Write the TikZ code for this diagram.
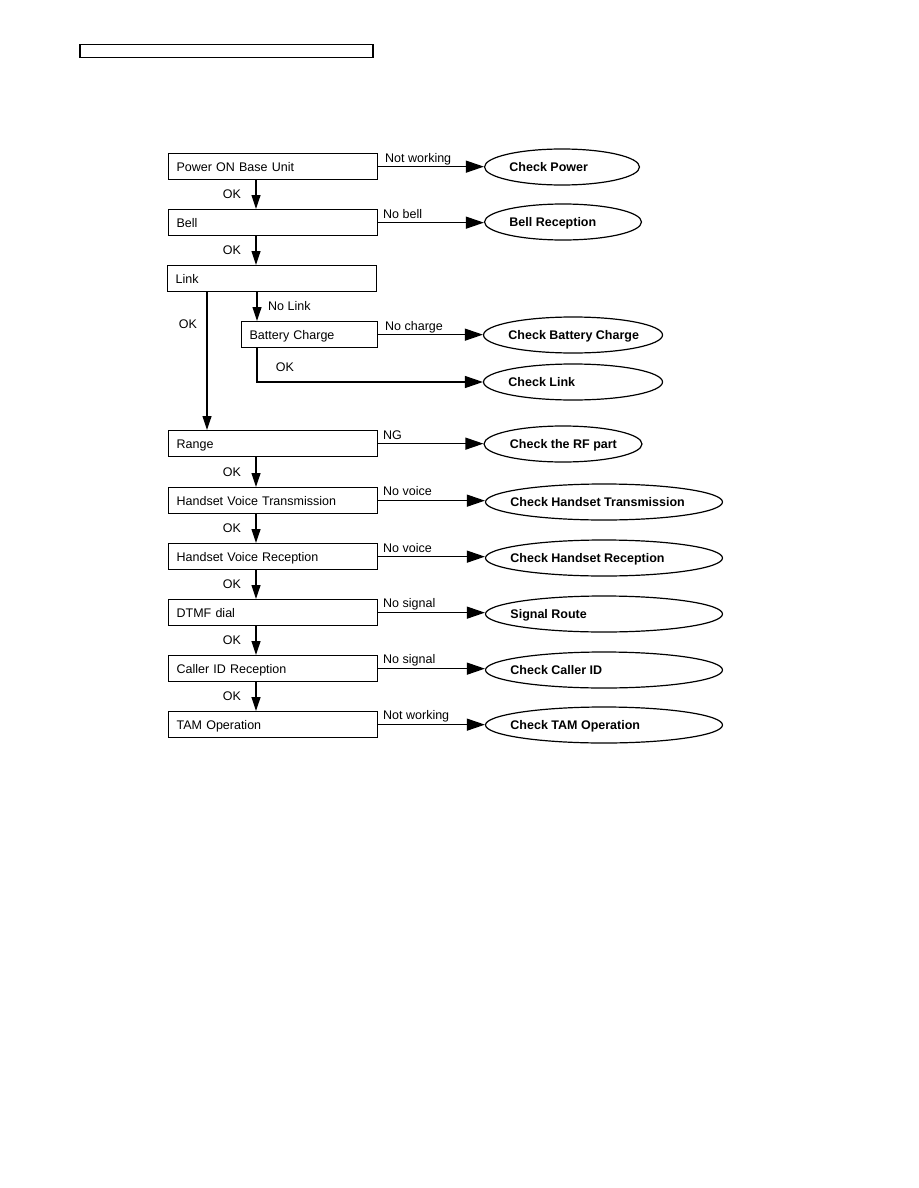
\documentclass[tikz,border=0pt]{standalone}
\usepackage{fontspec}
\setmainfont{Liberation Sans}
\usetikzlibrary{shapes.geometric,arrows.meta}
\begin{document}
\begin{tikzpicture}[x=1pt,y=-1pt,
  every node/.style={font=\fontsize{12.5}{15}\selectfont},
  box/.style={draw, line width=1.3pt, anchor=north west, minimum height=26pt, inner xsep=8pt, inner ysep=0pt, align=left, text height=9pt, text depth=0pt},
  wbox/.style={box, text width=193pt},
  ell/.style={draw, ellipse, line width=1.2pt, inner sep=0pt, minimum height=36pt},
  etext/.style={anchor=west, font=\fontsize{12.5}{15}\selectfont\bfseries, text height=9pt, text depth=0pt},
  lbl/.style={anchor=west, inner sep=0pt, text height=9pt, text depth=0pt},
  okl/.style={inner sep=0pt, text height=9pt, text depth=0pt},
  rarr/.style={draw, line width=1.2pt, -{Triangle[length=18pt,width=12pt]}},
  darr/.style={draw, line width=1.2pt, -{Triangle[length=14pt,width=9pt]}}]
\useasboundingbox (0,0) rectangle (918,1188);
% header box
\node[draw, line width=1.5pt, anchor=north west, minimum width=293pt, minimum height=13pt, inner sep=0pt] (hdr) at (79,44) {};
% columns
\coordinate (cx) at (256,0);
\coordinate (lx) at (207,0);
\coordinate (bx) at (257,0);
% boxes
\node[wbox] (pw) at (168,153) {Power ON Base Unit};
\node[wbox] (bl) at (168,209) {Bell};
\node[wbox] (lk) at (167,265) {Link};
\node[box, text width=120pt] (bc) at (241,321) {Battery Charge};
\node[wbox] (rg) at (168,430) {Range};
\node[wbox] (ht) at (168,487) {Handset Voice Transmission};
\node[wbox] (hr) at (168,543) {Handset Voice Reception};
\node[wbox] (dt) at (168,599) {DTMF dial};
\node[wbox] (ci) at (168,655) {Caller ID Reception};
\node[wbox] (tm) at (168,711) {TAM Operation};
% ellipses
\node[ell, minimum width=155pt] (e1) at (562,167) {};
\node[ell, minimum width=157pt] (e2) at (563,222) {};
\node[ell, minimum width=179pt] (e3) at (573,335) {};
\node[ell, minimum width=179pt] (e4) at (573,382) {};
\node[ell, minimum width=158pt] (e5) at (563,444) {};
\node[ell, minimum width=237pt] (e6) at (604,502) {};
\node[ell, minimum width=237pt] (e7) at (604,558) {};
\node[ell, minimum width=237pt] (e8) at (604,614) {};
\node[ell, minimum width=237pt] (e9) at (604,670) {};
\node[ell, minimum width=237pt] (e10) at (604,725) {};
\node[etext] at ([xshift=22pt]e1.west) {Check Power};
\node[etext] at ([xshift=22pt]e2.west) {Bell Reception};
\node[etext] at ([xshift=22pt]e3.west) {Check Battery Charge};
\node[etext] at ([xshift=22pt]e4.west) {Check Link};
\node[etext] at ([xshift=23pt]e5.west) {Check the RF part};
\node[etext] at ([xshift=22pt]e6.west) {Check Handset Transmission};
\node[etext] at ([xshift=22pt]e7.west) {Check Handset Reception};
\node[etext] at ([xshift=22pt]e8.west) {Signal Route};
\node[etext] at ([xshift=22pt]e9.west) {Check Caller ID};
\node[etext] at ([xshift=22pt]e10.west) {Check TAM Operation};
% right arrows
\draw[rarr] (pw.east) -- (pw.east -| e1.west);
\draw[rarr] (bl.east) -- (bl.east -| e2.west);
\draw[rarr] (bc.east) -- (bc.east -| e3.west);
\draw[rarr] (rg.east) -- (rg.east -| e5.west);
\draw[rarr] (ht.east) -- (ht.east -| e6.west);
\draw[rarr] (hr.east) -- (hr.east -| e7.west);
\draw[rarr] (dt.east) -- (dt.east -| e8.west);
\draw[rarr] (ci.east) -- (ci.east -| e9.west);
\draw[rarr] (tm.east) -- (tm.east -| e10.west);
\draw[rarr] (bc.south -| bx) |- (e4.west);
% down arrows
\draw[darr] (pw.south -| cx) -- (bl.north -| cx);
\draw[darr] (bl.south -| cx) -- (lk.north -| cx);
\draw[darr] (lk.south -| bx) -- (bc.north -| bx);
\draw[darr] (lk.south -| lx) -- (rg.north -| lx);
\draw[darr] (rg.south -| cx) -- (ht.north -| cx);
\draw[darr] (ht.south -| cx) -- (hr.north -| cx);
\draw[darr] (hr.south -| cx) -- (dt.north -| cx);
\draw[darr] (dt.south -| cx) -- (ci.north -| cx);
\draw[darr] (ci.south -| cx) -- (tm.north -| cx);
% edge labels
\node[lbl] at (385,158) {Not working};
\node[lbl] at (383,214) {No bell};
\node[lbl] at (385,326) {No charge};
\node[lbl] at (383,435) {NG};
\node[lbl] at (383,491) {No voice};
\node[lbl] at (383,548) {No voice};
\node[lbl] at (383,603) {No signal};
\node[lbl] at (383,659) {No signal};
\node[lbl] at (383,715) {Not working};
\node[lbl] at (268,306) {No Link};
\node[okl] at (232,194) {OK};
\node[okl] at (232,250) {OK};
\node[okl] at (188,324) {OK};
\node[okl] at (285,367) {OK};
\node[okl] at (232,472) {OK};
\node[okl] at (232,528) {OK};
\node[okl] at (232,584) {OK};
\node[okl] at (232,640) {OK};
\node[okl] at (232,696) {OK};
\end{tikzpicture}
\end{document}
